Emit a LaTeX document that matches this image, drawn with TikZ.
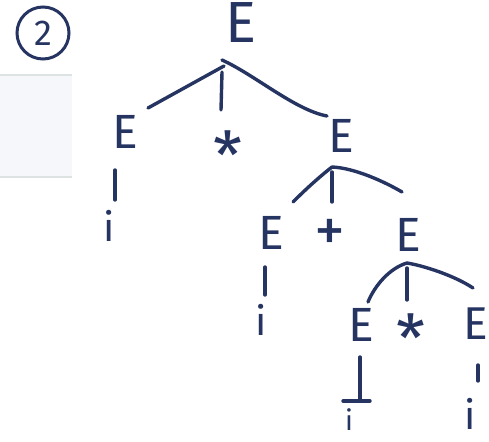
\documentclass[tikz,border=0pt]{standalone}
\usepackage{fontspec}
\setmainfont{Fira Sans}
\definecolor{ink}{RGB}{38,52,98}
\definecolor{panel}{RGB}{245,247,250}
\definecolor{rulegray}{RGB}{221,226,226}
\begin{document}
\begin{tikzpicture}[x=1pt,y=-1pt,
  sym/.style={text=ink, inner sep=0pt, font=\fontsize{48}{48}\selectfont},
  op/.style={text=ink, inner sep=0pt, font=\fontsize{66}{66}\selectfont},
  leaf/.style={text=ink, inner sep=0pt, font=\fontsize{40}{40}\selectfont},
  arm/.style={draw=ink, line width=3.4pt, line cap=round, line join=round}]
\useasboundingbox (0,0) rectangle (489,441);

% side panel
\fill[panel] (0,75) rectangle (72,177);
\draw[rulegray, line width=1.6pt] (0,75) -- (72,75) (0,177) -- (72,177);

% circled number
\node[draw=ink, line width=3pt, circle, minimum size=52pt, inner sep=0pt,
      text=ink, font=\fontsize{36}{36}\selectfont] (tag) at (43,33) {2};

% symbols
\node[sym, font=\fontsize{58}{58}\selectfont] (e0) at (241,23) {E};
\coordinate (j0) at (223,62);

\node[sym] (e1) at (125,132) {E};
\node[op]  (s1) at (228,155) {*};
\node[sym] (e2) at (341,136) {E};
\coordinate (j1) at (332,167);

\node[leaf] (i1) at (109,226) {i};

\node[sym] (e3) at (271,233) {E};
\node[sym, font=\fontsize{62}{62}\selectfont] (p1) at (330,235) {+};
\node[sym] (e4) at (408,235) {E};
\coordinate (j2) at (407,263);

\node[leaf] (i3) at (261,320) {i};

\node[sym] (e5) at (361,325) {E};
\node[op]  (s2) at (411,338) {*};
\node[sym, font=\fontsize{46}{46}\selectfont] (e6) at (476,324) {E};

\node[leaf, font=\fontsize{28}{28}\selectfont] (i5) at (349,420) {i};
\node[leaf] (i6) at (470,414) {i};

% branches under the root
\draw[arm] ([shift={(1,4)}]j0) -- ([shift={(23,-24)}]e1.center);
\draw[arm] ([shift={(-1,10)}]j0) -- ([shift={(-7,-45)}]s1.center);
\draw[arm] ([shift={(-1,-2)}]j0) .. controls (255,75) and (295,110) .. ([shift={(-14,-20)}]e2.center);

% left operand
\draw[arm] ([shift={(-10,38)}]e1.center) -- ([shift={(6,-26)}]i1.center);

% branches under the right operand
\draw[arm] (j1) .. controls (318,178) and (305,190) .. ([shift={(22,-31)}]e3.center);
\draw[arm] ([shift={(0,5)}]j1) -- ([shift={(2,-33)}]p1.center);
\draw[arm] (j1) .. controls (355,168) and (385,182) .. ([shift={(-6,-43)}]e4.center);

\draw[arm] ([shift={(-6,34)}]e3.center) -- ([shift={(4,-25)}]i3.center);

% branches under the innermost product
\draw[arm] (j2) .. controls (390,268) and (375,285) .. ([shift={(7,-23)}]e5.center);
\draw[arm] ([shift={(0,5)}]j2) -- ([shift={(-4,-38)}]s2.center);
\draw[arm] (j2) .. controls (425,266) and (455,276) .. ([shift={(-3,-36)}]e6.center);

\draw[arm] ([shift={(-1,32)}]e5.center) -- ([shift={(11,-19)}]i5.center);
\draw[arm] ([shift={(-6,-19)}]i5.center) -- ([shift={(21,-19)}]i5.center);
\draw[arm] ([shift={(2,41)}]e6.center) -- ([shift={(8,-33)}]i6.center);
\end{tikzpicture}
\end{document}
